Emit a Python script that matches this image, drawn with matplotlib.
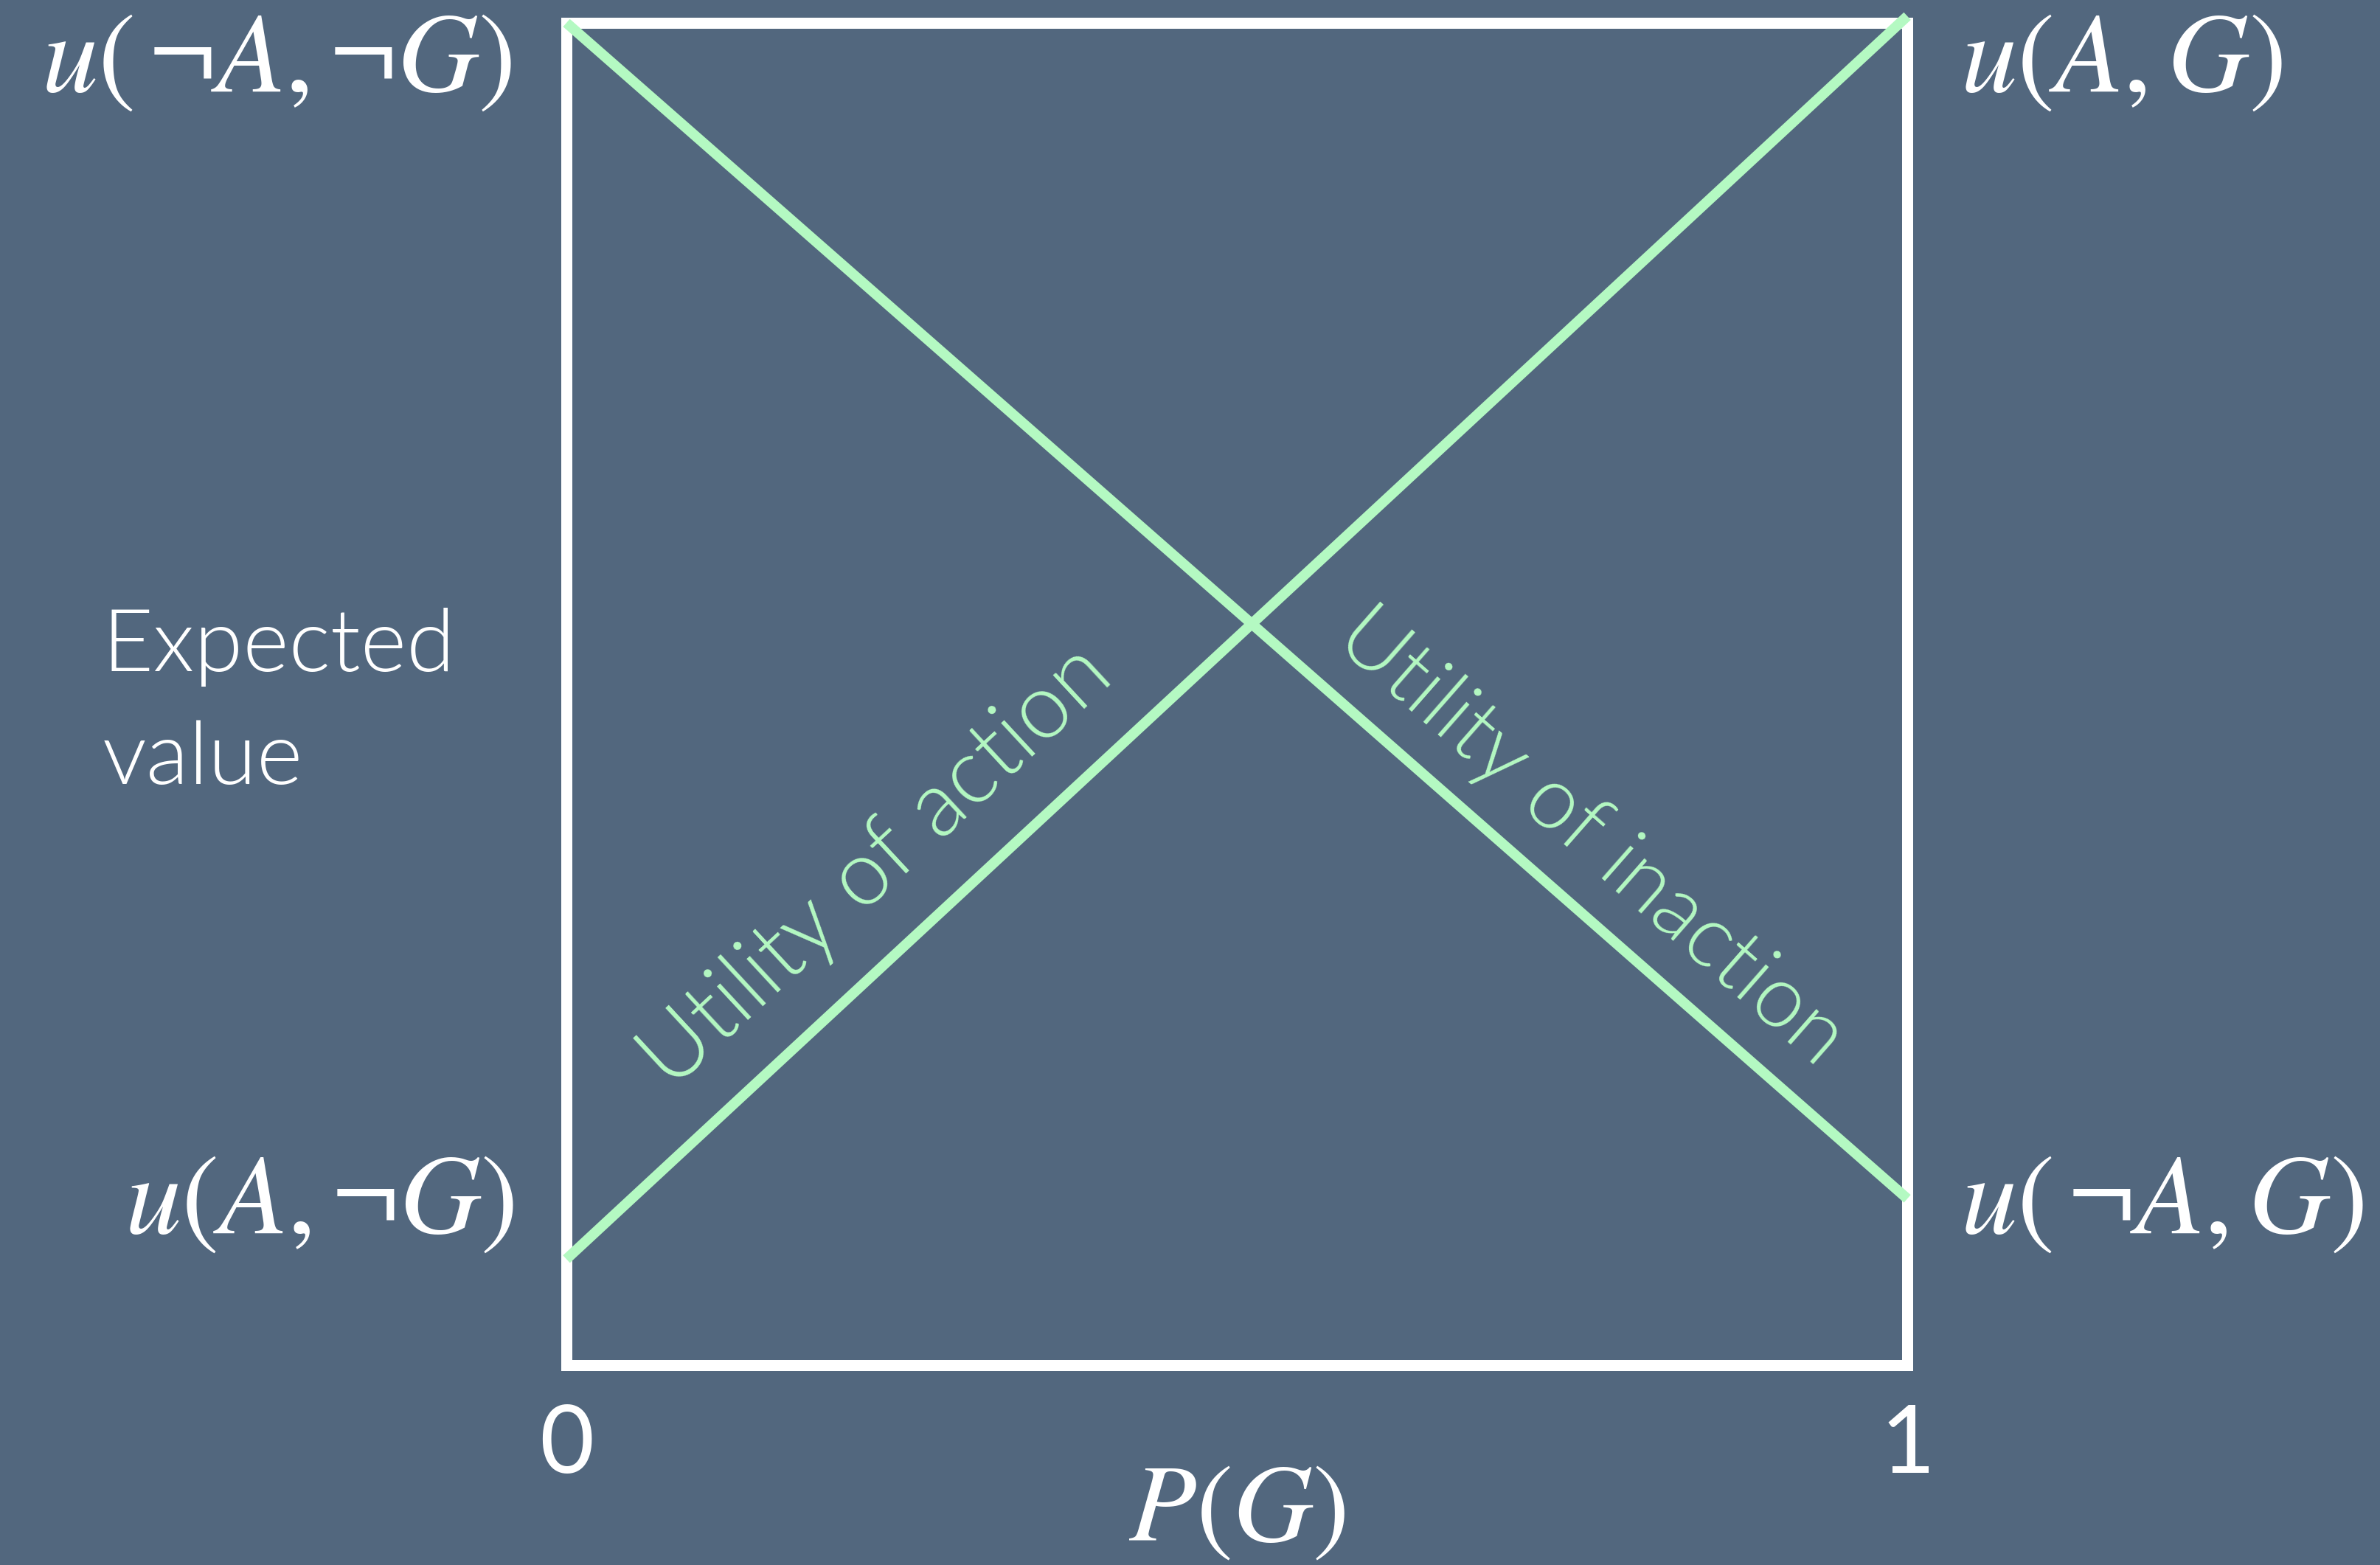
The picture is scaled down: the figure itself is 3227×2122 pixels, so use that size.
import numpy as np
import matplotlib.pyplot as plt
import matplotlib.transforms as mtransforms
from matplotlib import font_manager as fm

plt.rcParams['mathtext.fontset'] = 'stix'

BG = '#52677e'
GREEN = '#b4f9c2'
WHITE = 'white'

# data
p_g = [0, 1]
action_utility = [0.079, 1.005]
inaction_utility = [1.0, 0.124]
x_tick_pos = [0, 1]
x_tick_labels = ['0', '1']

corner_labels = {
    'top_left': r'$u(\,\neg A,\neg G)$',
    'top_right': r'$u(A,G)$',
    'bottom_left': r'$u(A,\neg G)$',
    'bottom_right': r'$u(\,\neg A,G)$',
}


def font(file_end, size):
    for f in fm.fontManager.ttflist:
        if f.fname.endswith(file_end):
            return fm.FontProperties(fname=f.fname, size=size)
    return fm.FontProperties(family='DejaVu Sans', size=size)


def line_angle(ax, x, y):
    pts = ax.transData.transform(np.column_stack([x, y]))
    d = pts[1] - pts[0]
    return np.degrees(np.arctan2(d[1], d[0]))


def label_line(ax, x, y, t, text, offset_px, fp):
    ang = line_angle(ax, x, y)
    yt = np.interp(t, x, y)
    a = np.radians(ang)
    off = offset_px * 72.0 / fig.dpi
    ax.annotate(text, xy=(t, yt), xytext=(-np.sin(a) * off, np.cos(a) * off),
                textcoords='offset points', rotation=ang, rotation_mode='anchor',
                ha='center', va='baseline', color=GREEN, fontproperties=fp,
                annotation_clip=False)


fig = plt.figure(figsize=(32.27, 21.22), dpi=100, facecolor=BG)
ax = fig.add_axes([0.238, 0.1277, 0.5634, 0.8577])
ax.set_facecolor(BG)
ax.set_xlim(0, 1)
ax.set_ylim(0, 1)
ax.set_xticks([])
ax.set_yticks([])
for s in ax.spines.values():
    s.set_color(WHITE)
    s.set_linewidth(10.8)

ax.plot(p_g, action_utility, color=GREEN, lw=10, solid_capstyle='butt', zorder=3, clip_on=False)
ax.plot(p_g, inaction_utility, color=GREEN, lw=10, solid_capstyle='butt', zorder=3, clip_on=False)

label_line(ax, p_g, action_utility, 0.27, 'Utility of action', 70, font('Lato-Light.ttf', 89))
label_line(ax, p_g, inaction_utility, 0.733, 'Utility of inaction', 53, font('Lato-Light.ttf', 85))

# corner utility labels
msize = 110
fig.text(0.2151, 0.9416, corner_labels['top_left'], ha='right', va='baseline', color=WHITE, fontsize=msize)
fig.text(0.8237, 0.9416, corner_labels['top_right'], ha='left', va='baseline', color=WHITE, fontsize=msize)
fig.text(0.2160, 0.2121, corner_labels['bottom_left'], ha='right', va='baseline', color=WHITE, fontsize=msize)
fig.text(0.8237, 0.2121, corner_labels['bottom_right'], ha='left', va='baseline', color=WHITE, fontsize=msize)

# y axis title
fig.text(0.0430, 0.5712, 'Expected', ha='left', va='baseline', color=WHITE,
         fontproperties=font('Lato-Light.ttf', 86))
fig.text(0.0430, 0.4991, 'value', ha='left', va='baseline', color=WHITE,
         fontproperties=font('Lato-Light.ttf', 86))

# x ticks and title
trans = mtransforms.blended_transform_factory(ax.transData, fig.transFigure)
for xp, lab in zip(x_tick_pos, x_tick_labels):
    ax.text(xp, 0.0589, lab, transform=trans, ha='center', va='baseline', color=WHITE,
            fontproperties=font('Lato-Regular.ttf', 92))
ax.text(0.5, 0.0155, r'$P(G)$', transform=trans, ha='center', va='baseline', color=WHITE, fontsize=108)

fig.savefig('out.png', dpi=100, facecolor=BG)
